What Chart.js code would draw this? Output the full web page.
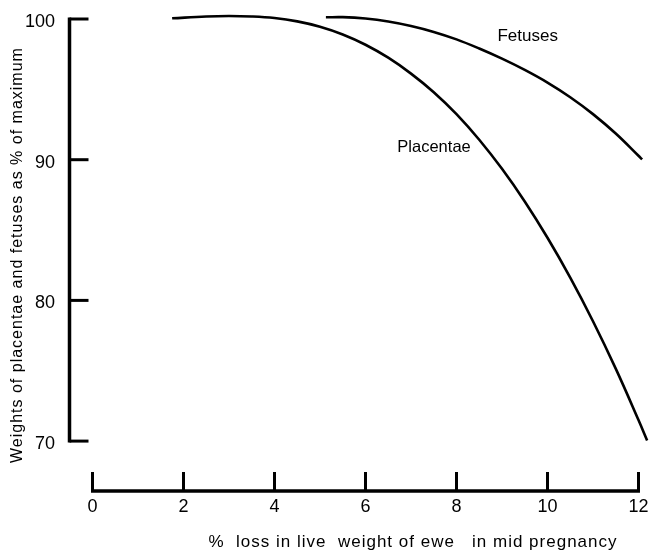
<!DOCTYPE html>
<html>
<head>
<meta charset="utf-8">
<script src="https://cdn.jsdelivr.net/npm/chart.js@4"></script>
<style>
html,body{margin:0;padding:0;background:#fff;}
#wrap{width:652px;height:550px;position:relative;}
</style>
</head>
<body>
<div id="wrap"><canvas id="c" width="652" height="550"></canvas></div>
<script>
// Data
const placentaeX = [1.75, 2.5, 3.0, 3.5, 4.0, 4.5, 5.0, 5.5, 6.0, 6.5, 7.0, 7.5, 8.0, 8.5, 9.0, 9.5, 10.0, 10.5, 11.0, 11.5, 12.0, 12.19];
const placentaeY = [100.05, 100.18, 100.21, 100.18, 100.07, 99.83, 99.45, 98.90, 98.17, 97.25, 96.12, 94.80, 93.24, 91.42, 89.35, 87.03, 84.45, 81.62, 78.52, 75.15, 71.50, 70.05];
const fetusesX = [5.13, 5.5, 6.0, 6.5, 7.0, 7.5, 8.0, 8.5, 9.0, 9.5, 10.0, 10.5, 11.0, 11.5, 12.0, 12.08];
const fetusesY = [100.12, 100.13, 100.03, 99.82, 99.50, 99.08, 98.55, 97.90, 97.18, 96.38, 95.48, 94.44, 93.24, 91.86, 90.28, 90.02];
const xTicks = [0, 2, 4, 6, 8, 10, 12];
const yTicks = [70, 80, 90, 100];
const xTitle = '%  loss in live  weight of ewe   in mid pregnancy';
const yTitle = 'Weights of placentae and fetuses as % of maximum';
const seriesLabels = ['Placentae', 'Fetuses'];

const FONT = '"Liberation Sans", Arial, Helvetica, sans-serif';

const toPts = (xs, ys) => xs.map((x, i) => ({x: x, y: ys[i]}));

const axesPlugin = {
  id: 'axesPlugin',
  afterDatasetsDraw(chart) {
    const ctx = chart.ctx;
    const xs = chart.scales.x, ys = chart.scales.y;
    ctx.save();
    ctx.strokeStyle = '#000';
    ctx.lineCap = 'butt';
    // y axis line
    const axX = chart.chartArea.left - 0.5;
    ctx.lineWidth = 3.5;
    ctx.beginPath();
    ctx.moveTo(axX, ys.getPixelForValue(yTicks[0]) + 1.5);
    ctx.lineTo(axX, ys.getPixelForValue(yTicks[yTicks.length - 1]) - 1.5);
    ctx.stroke();
    // y ticks (inward)
    ctx.lineWidth = 3;
    yTicks.forEach(v => {
      const py = ys.getPixelForValue(v);
      ctx.beginPath();
      ctx.moveTo(axX, py);
      ctx.lineTo(axX + 19, py);
      ctx.stroke();
    });
    // x axis line
    const axY = chart.chartArea.bottom + 1;
    ctx.lineWidth = 3.5;
    ctx.beginPath();
    ctx.moveTo(xs.getPixelForValue(xTicks[0]) - 1.5, axY);
    ctx.lineTo(xs.getPixelForValue(xTicks[xTicks.length - 1]) + 1.5, axY);
    ctx.stroke();
    ctx.lineWidth = 3;
    xTicks.forEach(v => {
      const px = xs.getPixelForValue(v);
      ctx.beginPath();
      ctx.moveTo(px, axY);
      ctx.lineTo(px, axY - 19);
      ctx.stroke();
    });
    // series labels
    ctx.fillStyle = '#000';
    ctx.textBaseline = 'alphabetic';
    ctx.textAlign = 'left';
    ctx.font = '17px ' + FONT;
    ctx.fillText(seriesLabels[1], xs.getPixelForValue(8.9), ys.getPixelForValue(98.45));
    ctx.font = '16.5px ' + FONT;
    ctx.fillText(seriesLabels[0], xs.getPixelForValue(6.7), ys.getPixelForValue(90.55));
    // axis titles
    try { ctx.letterSpacing = '1px'; } catch (e) {}
    ctx.font = '17px ' + FONT;
    ctx.textAlign = 'center';
    ctx.fillText(xTitle, 413, 547);
    ctx.font = '16px ' + FONT;
    ctx.save();
    ctx.translate(22, (ys.getPixelForValue(yTicks[0]) + ys.getPixelForValue(yTicks[yTicks.length - 1])) / 2 + 25);
    ctx.rotate(-Math.PI / 2);
    ctx.fillText(yTitle, 0, 0);
    ctx.restore();
    ctx.restore();
  }
};

new Chart(document.getElementById('c'), {
  type: 'line',
  data: {
    datasets: [
      {
        label: seriesLabels[0],
        data: toPts(placentaeX, placentaeY),
        borderColor: '#000',
        borderWidth: 2.6,
        pointRadius: 0,
        fill: false,
        tension: 0.4,
        clip: 12
      },
      {
        label: seriesLabels[1],
        data: toPts(fetusesX, fetusesY),
        borderColor: '#000',
        borderWidth: 2.6,
        pointRadius: 0,
        fill: false,
        tension: 0.4,
        clip: 12
      }
    ]
  },
  options: {
    responsive: false,
    animation: false,
    events: [],
    layout: {padding: {top: 19, left: 0, right: 0, bottom: 0}},
    plugins: {legend: {display: false}, tooltip: {enabled: false}, title: {display: false}},
    scales: {
      x: {
        type: 'linear',
        min: -0.4945,
        max: 12.297,
        afterBuildTicks: s => { s.ticks = xTicks.map(v => ({value: v})); },
        afterFit: s => { s.height = 60; },
        grid: {display: false},
        border: {display: false},
        ticks: {
          color: '#000',
          padding: -2,
          maxRotation: 0,
          autoSkip: false,
          font: {family: FONT, size: 18},
          callback: v => String(v)
        },
        title: {display: false}
      },
      y: {
        type: 'linear',
        min: 66.524,
        max: 100,
        afterBuildTicks: s => { s.ticks = yTicks.map(v => ({value: v})); },
        afterFit: s => { s.width = 70; },
        grid: {display: false},
        border: {display: false},
        ticks: {
          color: '#000',
          padding: 7,
          labelOffset: 3,
          font: {family: FONT, size: 18},
          callback: v => String(v)
        },
        title: {display: false}
      }
    }
  },
  plugins: [axesPlugin]
});
</script>
</body>
</html>
